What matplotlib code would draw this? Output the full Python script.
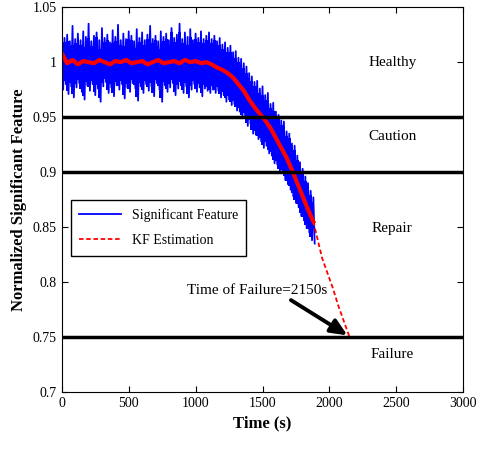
import numpy as np
import matplotlib
matplotlib.use("Agg")
import matplotlib.pyplot as plt
from matplotlib.ticker import FormatStrFormatter

# upper / lower excursions of the measured feature, read every 20 s
feature_upper = [
    1.03, 1.022, 1.025, 1.019, 1.033, 1.021, 1.026, 1.02, 1.028, 1.023,
    1.035, 1.019, 1.024, 1.027, 1.02, 1.031, 1.022, 1.025, 1.018, 1.029,
    1.023, 1.034, 1.02, 1.026, 1.021, 1.028, 1.024, 1.019, 1.03, 1.022,
    1.027, 1.02, 1.025, 1.033, 1.021, 1.024, 1.019, 1.028, 1.023, 1.026,
    1.02, 1.031, 1.022, 1.025, 1.035, 1.021, 1.027, 1.023, 1.03, 1.02,
    1.026, 1.022, 1.028, 1.021, 1.024, 1.027,
    1.021, 1.024, 1.019, 1.022, 1.016, 1.018, 1.013, 1.015, 1.009, 1.01,
    1.004, 1.003, 0.999, 0.996, 0.99, 0.987, 0.982, 0.983, 0.976, 0.978,
    0.97, 0.972, 0.962, 0.963, 0.955, 0.952, 0.947, 0.946, 0.937, 0.935,
    0.926, 0.924, 0.915, 0.909, 0.903, 0.896, 0.89, 0.883, 0.877,
]
feature_lower = [
    0.975, 0.98, 0.971, 0.978, 0.968, 0.977, 0.981, 0.973, 0.966, 0.979,
    0.974, 0.98, 0.97, 0.976, 0.964, 0.978, 0.982, 0.972, 0.977, 0.969,
    0.979, 0.975, 0.98, 0.967, 0.977, 0.973, 0.981, 0.976, 0.965, 0.978,
    0.972, 0.98, 0.974, 0.978, 0.969, 0.981, 0.975, 0.964, 0.979, 0.973,
    0.977, 0.981, 0.97, 0.976, 0.979, 0.972, 0.978, 0.968, 0.975, 0.98,
    0.973, 0.977, 0.969, 0.976, 0.974, 0.972,
    0.975, 0.972, 0.974, 0.968, 0.97, 0.964, 0.966, 0.961, 0.962, 0.956,
    0.955, 0.949, 0.951, 0.942, 0.944, 0.935, 0.934, 0.93, 0.928, 0.922,
    0.924, 0.917, 0.915, 0.908, 0.907, 0.9, 0.899, 0.893, 0.889, 0.884,
    0.878, 0.872, 0.868, 0.86, 0.856, 0.849, 0.845, 0.838, 0.835,
]

# KF estimate, every 40 s
kf_value = [
    1.008, 0.999, 1.002, 0.998, 1.001, 1.0, 0.999, 1.002, 1.0, 0.998,
    1.001, 1.0, 1.002, 0.999, 1.0, 1.001, 0.998, 1.0, 1.002, 0.999,
    1.0, 1.001, 0.999, 1.002, 1.0, 1.001, 0.999, 1.0,
    0.998, 0.995, 0.993, 0.99, 0.986, 0.98, 0.974, 0.966, 0.959, 0.953,
    0.947, 0.94, 0.931, 0.922, 0.913, 0.902, 0.89, 0.878, 0.866, 0.855,
]

# KF prediction to failure
pred_time = [1880, 1945, 2027, 2065, 2150]
pred_value = [0.855, 0.822, 0.794, 0.779, 0.75]

thresholds = [0.95, 0.9, 0.75]
zones = ["Healthy", "Caution", "Repair", "Failure"]
zone_y = [1.0, 0.932, 0.849, 0.734]

# interleave upper/lower samples (upper at t, lower at t+10)
band_t = [20 * i for i in range(len(feature_upper))]
feat_t = []
feat_v = []
for i in range(len(feature_upper)):
    feat_t += [20 * i, 20 * i + 10]
    feat_v += [feature_upper[i], feature_lower[i]]
kf_time = [40 * i for i in range(len(kf_value))]

plt.rcParams["font.family"] = ["Liberation Serif", "DejaVu Serif"]

fig = plt.figure(figsize=(4.83, 4.49), dpi=100)
ax = fig.add_axes([0.128, 0.127, 0.831, 0.857])

# solid band core + spiky trace on top
core_hi = [min(u - 0.004, l + 0.048) for u, l in zip(feature_upper, feature_lower)]
core_lo = [l + 0.003 for l in feature_lower]
ax.fill_between(band_t, core_lo, core_hi, step="mid", color="#0000ff", lw=0)
ax.plot(feat_t, feat_v, color="#0000ff", lw=1.3, label="Significant Feature")
ax.plot(kf_time, kf_value, color="#ff0000", lw=3.0)
ax.plot(pred_time, pred_value, color="#ff0000", lw=1.3, ls=(0, (2.5, 1.5)),
        label="KF Estimation")

for y in thresholds:
    ax.axhline(y, color="black", lw=2.5, zorder=5)

for name, y in zip(zones, zone_y):
    ax.text(2470, y, name, ha="center", va="center", fontsize=11)

ax.annotate("Time of Failure=2150s", xy=(2135, 0.7515), xytext=(935, 0.792),
            fontsize=11, va="center",
            arrowprops=dict(arrowstyle="-|>,head_length=0.9,head_width=0.4",
                            color="black", lw=2.8,
                            shrinkA=0, shrinkB=0,
                            relpos=(0.71, 0.0)))

ax.set_xlim(0, 3000)
ax.set_ylim(0.7, 1.05)
ax.set_xticks(np.arange(0, 3001, 500))
ax.set_yticks(np.arange(0.7, 1.051, 0.05))
ax.yaxis.set_major_formatter(FormatStrFormatter("%g"))
ax.tick_params(direction="in", top=True, right=True, labelsize=10, length=4)

ax.set_xlabel("Time (s)", fontsize=12, fontweight="bold")
ax.set_ylabel("Normalized Significant Feature", fontsize=12, fontweight="bold")

leg = ax.legend(loc="upper left", bbox_to_anchor=(0.022, 0.5), fontsize=10,
                fancybox=False, edgecolor="black", framealpha=1,
                handlelength=3, borderaxespad=0, labelspacing=0.9,
                borderpad=0.6)
leg.get_frame().set_linewidth(1.0)

fig.savefig("out.png", dpi=100)
